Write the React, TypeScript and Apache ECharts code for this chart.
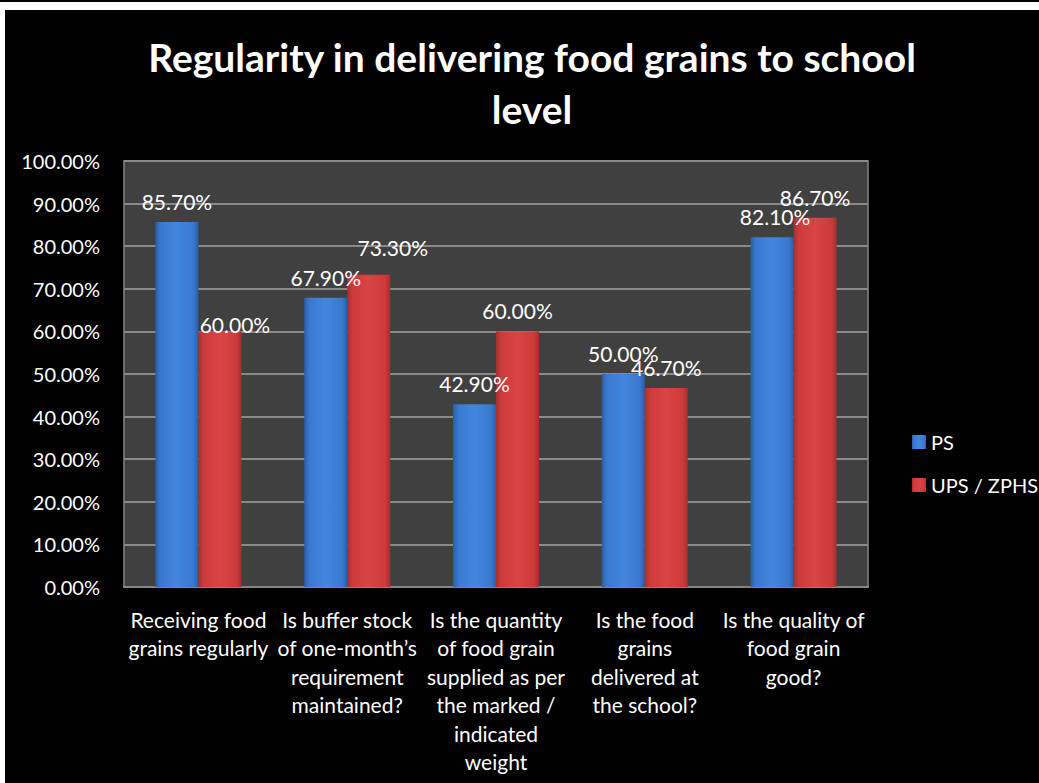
import React, { useEffect, useRef } from "react";
import * as echarts from "echarts";

const chartTitle = "Regularity in delivering food grains to school\nlevel";
const categories = [
  "Receiving food\ngrains regularly",
  "Is buffer stock\nof one-month\u2019s\nrequirement\nmaintained?",
  "Is the quantity\nof food grain\nsupplied as per\nthe marked /\nindicated\nweight",
  "Is the food\ngrains\ndelivered at\nthe school?",
  "Is the quality of\nfood grain\ngood?",
];
const seriesNames = ["PS", "UPS / ZPHS"];
const psValues = [85.7, 67.9, 42.9, 50.0, 82.1];
const upsValues = [60.0, 73.3, 60.0, 46.7, 86.7];
const yTicks = { min: 0, max: 100, step: 10 };

const FONT = "Lato, 'Open Sans', sans-serif";

function barGradient(edge: string, mid: string, light: string) {
  return new echarts.graphic.LinearGradient(0, 0, 1, 0, [
    { offset: 0, color: edge },
    { offset: 0.12, color: mid },
    { offset: 0.5, color: light },
    { offset: 0.88, color: mid },
    { offset: 1, color: edge },
  ]);
}

export default function App() {
  const ref = useRef<HTMLDivElement>(null);

  useEffect(() => {
    if (!ref.current) return;
    const chart = echarts.init(ref.current, undefined, { renderer: "svg" });

    const blue = barGradient("#2b5ea6", "#3a78cf", "#4287dd");
    const red = barGradient("#a52f2f", "#cc3b3b", "#d94444");

    // per-point label nudges (Excel 3D label placement quirks)
    const upsNudge: Record<number, number[]> = { 0: [15, 14], 1: [24, -7] };
    const psNudge: Record<number, number[]> = { 4: [3, 0] };

    const labelBase = {
      show: true,
      position: "top",
      distance: 10,
      color: "#ffffff",
      fontFamily: FONT,
      fontSize: 21,
      formatter: (p: any) => Number(p.value).toFixed(2) + "%",
    };

    const mkData = (vals: number[], nudge: Record<number, number[]>) =>
      vals.map((v, i) =>
        nudge[i] ? { value: v, label: { offset: nudge[i] } } : { value: v }
      );

    chart.setOption({
      animation: false,
      backgroundColor: "#000000",
      title: {
        text: chartTitle,
        left: 522,
        top: 16,
        textAlign: "center",
        textStyle: {
          color: "#ffffff",
          fontFamily: FONT,
          fontWeight: "bold",
          fontSize: 39,
          lineHeight: 52,
        },
      },
      legend: {
        orient: "vertical",
        left: 902,
        top: 417,
        itemWidth: 14,
        itemHeight: 14,
        itemGap: 23,
        icon: "rect",
        textStyle: { color: "#ffffff", fontFamily: FONT, fontSize: 20 },
        data: seriesNames,
      },
      grid: {
        left: 119,
        top: 151,
        right: 171,
        bottom: 196,
        show: true,
        backgroundColor: "#404040",
        borderColor: "#858585",
        borderWidth: 1.5,
      },
      xAxis: {
        type: "category",
        data: categories,
        axisLine: { show: true, lineStyle: { color: "#858585", width: 2 } },
        axisTick: { show: false },
        axisLabel: {
          interval: 0,
          color: "#ffffff",
          fontFamily: FONT,
          fontSize: 21,
          lineHeight: 28.5,
          margin: 18,
          align: "center",
          verticalAlign: "top",
        },
      },
      yAxis: {
        type: "value",
        min: yTicks.min,
        max: yTicks.max,
        interval: yTicks.step,
        axisLine: { show: false },
        axisTick: { show: false },
        splitLine: { show: true, lineStyle: { color: "#8a8a8a", width: 2 } },
        axisLabel: {
          color: "#ffffff",
          fontFamily: FONT,
          fontSize: 20,
          margin: 24,
          formatter: (v: number) => v.toFixed(2) + "%",
        },
      },
      series: [
        {
          name: seriesNames[0],
          type: "bar",
          barWidth: 43,
          barGap: "0%",
          itemStyle: { color: blue },
          label: labelBase,
          data: mkData(psValues, psNudge),
        },
        {
          name: seriesNames[1],
          type: "bar",
          barWidth: 43,
          barGap: "0%",
          itemStyle: { color: red },
          label: labelBase,
          data: mkData(upsValues, upsNudge),
        },
      ],
    });

    return () => chart.dispose();
  }, []);

  return (
    <div
      style={{
        position: "fixed",
        left: 0,
        top: 0,
        width: 1039,
        height: 783,
        background: "#ffffff",
        overflow: "hidden",
      }}
    >
      <div
        style={{
          position: "absolute",
          left: 0,
          top: 0,
          width: 1039,
          height: 2,
          background: "#000000",
        }}
      />
      <div
        ref={ref}
        style={{
          position: "absolute",
          left: 5,
          top: 10,
          width: 1034,
          height: 773,
          background: "#000000",
        }}
      />
    </div>
  );
}
